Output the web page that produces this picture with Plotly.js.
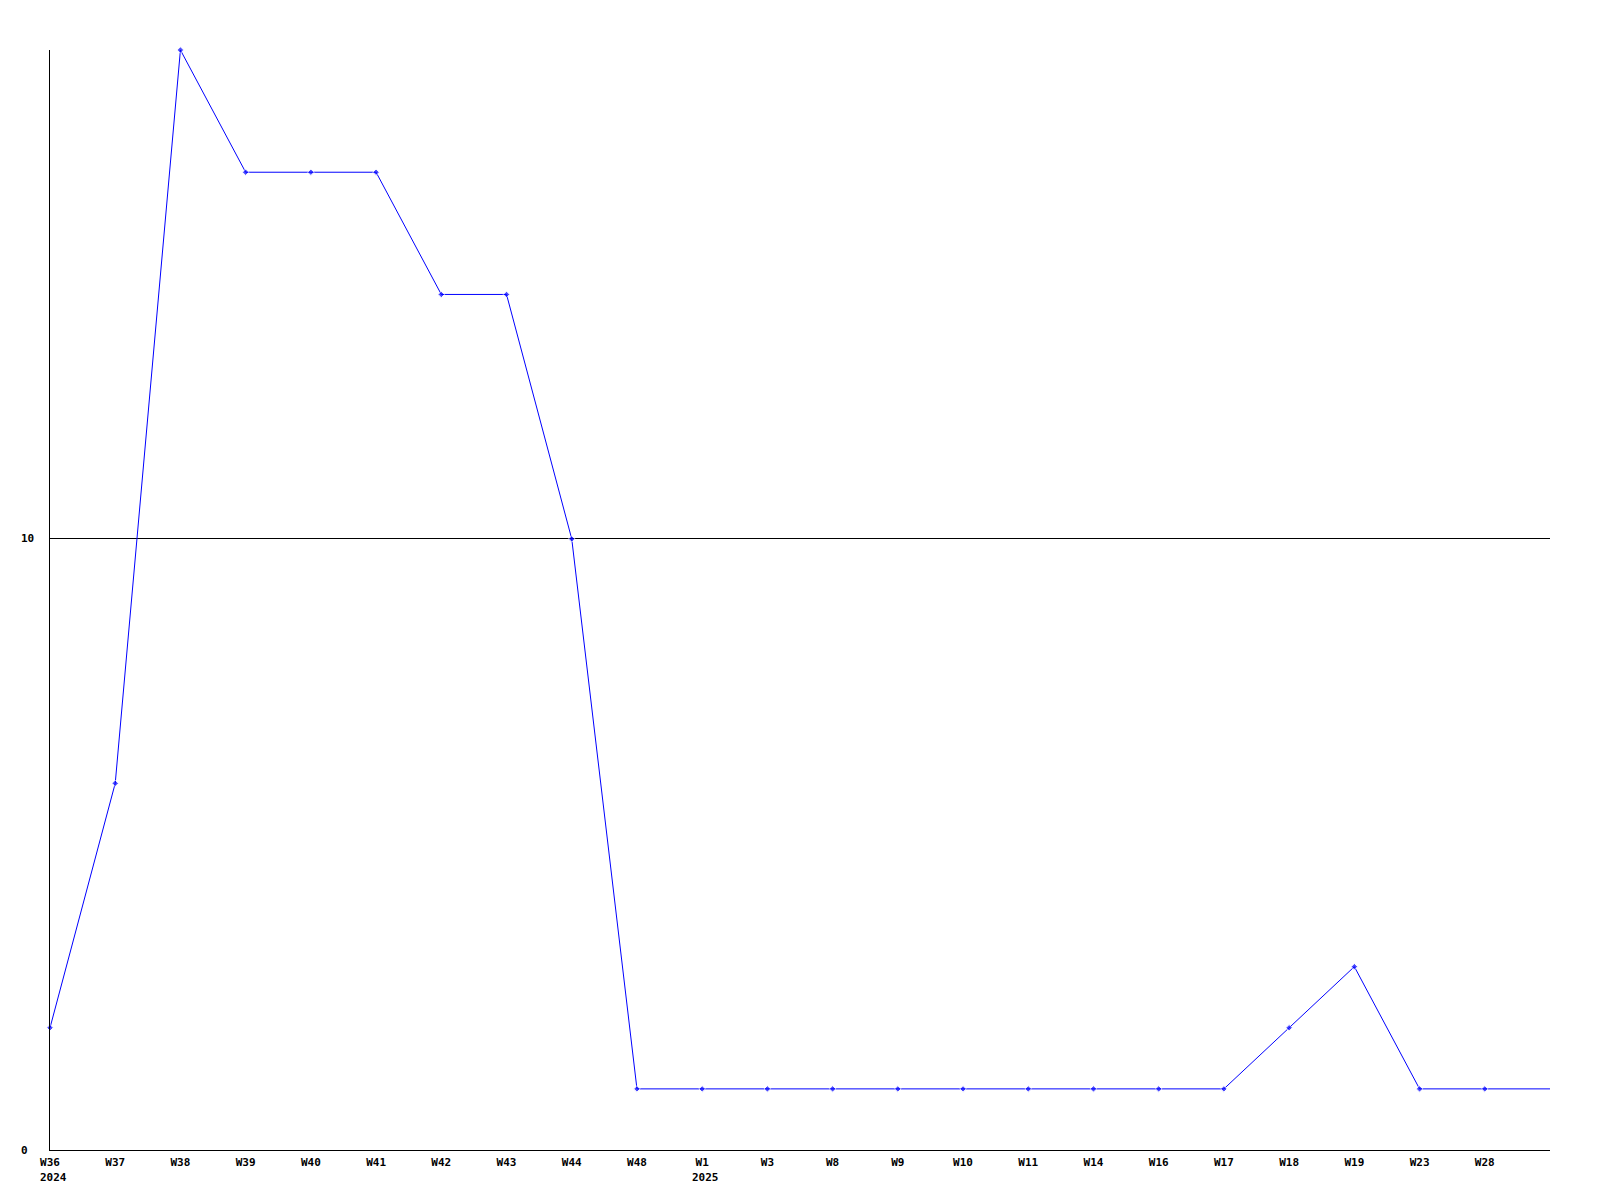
<!DOCTYPE html>
<html>
<head>
<meta charset="utf-8">
<script src="https://cdn.plot.ly/plotly-3.0.1.min.js"></script>
<style>html,body{margin:0;padding:0;background:#fff;}#chart{width:1600px;height:1200px;}</style>
</head>
<body>
<div id="chart"></div>
<script>
// Week labels (last point is an unlabeled continuation to the axis end)
const weekLabels = ["W36","W37","W38","W39","W40","W41","W42","W43","W44","W48","W1","W3","W8","W9","W10","W11","W14","W16","W17","W18","W19","W23","W28",""];
const values = [2,6,18,16,16,16,14,14,10,1,1,1,1,1,1,1,1,1,1,2,3,1,1,1];
const yearLabels = ["2024","2025"];
const yearPositions = [0,10];
const yTickVals = [0,10];
const yTickText = ["0","10"];

const xIdx = weekLabels.map((_, i) => i);
const font = {family: "DejaVu Sans Mono, Liberation Mono, monospace", size: 11, color: "#000"};

const annotations = [];
yearLabels.forEach((t, i) => {
  annotations.push({
    text: "<b>" + t + "</b>", xref: "x", yref: "paper", x: yearPositions[i], y: 0,
    xanchor: "left", yanchor: "middle", xshift: -12, yshift: -27, showarrow: false, font: font
  });
});
yTickVals.forEach((v, i) => {
  annotations.push({
    text: "<b>" + yTickText[i] + "</b>", xref: "paper", yref: "y", x: 0, y: v,
    xanchor: "left", yanchor: "middle", xshift: -31, showarrow: false, font: font
  });
});

const trace = {
  x: xIdx, y: values, type: "scatter", mode: "lines+markers",
  line: {color: "#0000ff", width: 1},
  marker: {color: "#0000ff", symbol: "diamond", size: values.map((_, i) => i < values.length - 1 ? 5 : 0)},
  cliponaxis: false, hoverinfo: "none"
};

const layout = {
  width: 1600, height: 1200,
  margin: {l: 50, r: 50, t: 50, b: 50},
  paper_bgcolor: "#fff", plot_bgcolor: "#fff",
  showlegend: false,
  font: font,
  xaxis: {
    range: [0, weekLabels.length - 1], tickmode: "array", tickvals: xIdx,
    ticktext: weekLabels.map(t => t ? "<b>" + t + "</b>" : ""),
    showgrid: false, zeroline: false, showline: true, linecolor: "#000", linewidth: 1,
    ticks: "", tickfont: font, ticklabelstandoff: 2, fixedrange: true
  },
  yaxis: {
    range: [0, 18], tickmode: "array", tickvals: [10], ticktext: [""],
    showticklabels: false,
    showgrid: true, gridcolor: "#000", gridwidth: 1, zeroline: false,
    showline: true, linecolor: "#000", linewidth: 1, ticks: "", fixedrange: true
  },
  annotations: annotations
};

Plotly.newPlot("chart", [trace], layout, {staticPlot: true});
</script>
</body>
</html>
